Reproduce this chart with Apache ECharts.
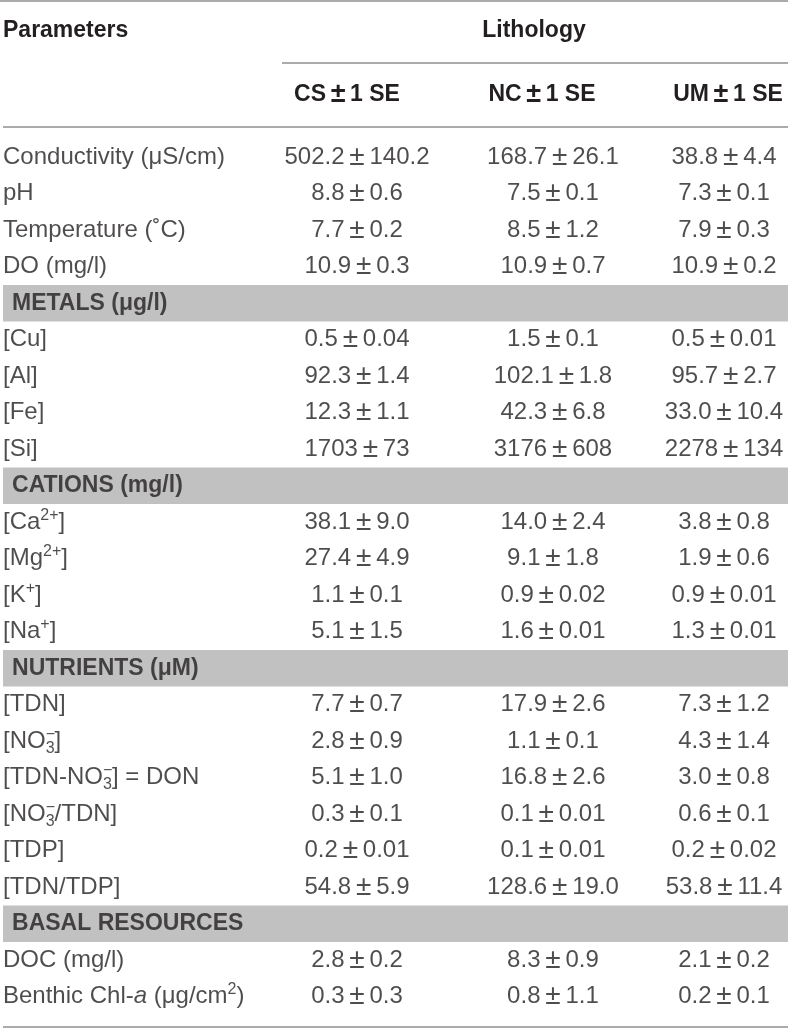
<!DOCTYPE html>
<html>
<head>
<meta charset="utf-8">
<script src="https://cdn.jsdelivr.net/npm/echarts@6/dist/echarts.min.js"></script>
<style>
  html, body { margin: 0; padding: 0; background: #fff; }
  #chart { width: 788px; height: 1029px; }
</style>
</head>
<body>
<div id="chart"></div>
<script>
// table content
const rowLabels = [
  'Conductivity (μS/cm)', 'pH', 'Temperature (˚C)', 'DO (mg/l)',
  'METALS (μg/l)', '[Cu]', '[Al]', '[Fe]', '[Si]',
  'CATIONS (mg/l)', '[Ca{sup|2+}]', '[Mg{sup|2+}]', '[K{sup|+}]', '[Na{sup|+}]',
  'NUTRIENTS (μM)', '[TDN]', '[NO{supz|−}{sub|3}]', '[TDN-NO{supz|−}{sub|3}] = DON',
  '[NO{supz|−}{sub|3}/TDN]', '[TDP]', '[TDN/TDP]',
  'BASAL RESOURCES', 'DOC (mg/l)', 'Benthic Chl-{i|a} (μg/cm{sup|2})'
]
const sectionRows = [4, 9, 14, 21]

const csMean = ['502.2', '8.8', '7.7', '10.9', null, '0.5', '92.3', '12.3', '1703', null, '38.1', '27.4', '1.1', '5.1', null, '7.7', '2.8', '5.1', '0.3', '0.2', '54.8', null, '2.8', '0.3']
const csSE   = ['140.2', '0.6', '0.2', '0.3', null, '0.04', '1.4', '1.1', '73', null, '9.0', '4.9', '0.1', '1.5', null, '0.7', '0.9', '1.0', '0.1', '0.01', '5.9', null, '0.2', '0.3']
const ncMean = ['168.7', '7.5', '8.5', '10.9', null, '1.5', '102.1', '42.3', '3176', null, '14.0', '9.1', '0.9', '1.6', null, '17.9', '1.1', '16.8', '0.1', '0.1', '128.6', null, '8.3', '0.8']
const ncSE   = ['26.1', '0.1', '1.2', '0.7', null, '0.1', '1.8', '6.8', '608', null, '2.4', '1.8', '0.02', '0.01', null, '2.6', '0.1', '2.6', '0.01', '0.01', '19.0', null, '0.9', '1.1']
const umMean = ['38.8', '7.3', '7.9', '10.9', null, '0.5', '95.7', '33.0', '2278', null, '3.8', '1.9', '0.9', '1.3', null, '7.3', '4.3', '3.0', '0.6', '0.2', '53.8', null, '2.1', '0.2']
const umSE   = ['4.4', '0.1', '0.3', '0.2', null, '0.01', '2.7', '10.4', '134', null, '0.8', '0.6', '0.01', '0.01', null, '1.2', '1.4', '0.8', '0.1', '0.02', '11.4', null, '0.2', '0.1']

const headTitle = 'Parameters'
const groupTitle = 'Lithology'
const columnTitles = ['CS', 'NC', 'UM']

// layout (x positions in percent of table width)
const ROW_H = 36.5
const GRID_TOP = 139
const X_LABEL = 0
const X_SECTION = 1.15
const X_COLS = [45.1, 70.06, 91.85]

const FONT = '"Liberation Sans", Arial, sans-serif'
const INK = '#231f20'
const RULE = '#8f8f8f'
const PM = '\u2009{pm|±}\u2009'

const rows = rowLabels.map((_, i) => String(i))
const isSection = i => sectionRows.indexOf(i) >= 0

const rich = {
  sup: { fontSize: 16, fontFamily: FONT, color: INK, verticalAlign: 'top', lineHeight: 12 },
  supz: { fontSize: 16, fontFamily: FONT, color: INK, verticalAlign: 'top', lineHeight: 12, width: 0 },
  sub: { fontSize: 16, fontFamily: FONT, color: INK, verticalAlign: 'bottom', lineHeight: 12 },
  i: { fontSize: 24, fontFamily: FONT, color: INK, fontStyle: 'italic', lineHeight: 30 },
  pm: { fontSize: 28, fontFamily: FONT, color: INK, lineHeight: 30 }
}

function valueSeries (means, ses, x) {
  return {
    type: 'scatter',
    symbolSize: 0,
    silent: true,
    data: means.map((m, i) => m == null ? null : { value: [x, i], text: m + PM + ses[i] }).filter(d => d),
    label: {
      show: true,
      position: 'inside',
      align: 'center',
      verticalAlign: 'middle',
      fontFamily: FONT,
      fontSize: 24,
      lineHeight: 30,
      color: INK,
      rich: rich,
      formatter: p => p.data.text
    }
  }
}

const chart = echarts.init(document.getElementById('chart'), null, { renderer: 'canvas' })

const headText = (text, x, y, align) => ({
  type: 'text',
  x: x, y: y,
  style: {
    text: text, fill: INK, font: 'bold 23px ' + FONT,
    textAlign: align, textVerticalAlign: 'middle',
    rich: { pm: { fontSize: 27, fontWeight: 'bold', fontFamily: FONT, fill: INK } }
  }
})
const rule = (x1, x2, y) => ({
  type: 'line',
  shape: { x1: x1, y1: y, x2: x2, y2: y },
  style: { stroke: RULE, lineWidth: 1.5 }
})
const colHead = c => c + '\u2009{pm|±}\u20091 SE'

chart.setOption({
  animation: false,
  backgroundColor: '#fff',
  grid: { left: 3, right: 0, top: GRID_TOP, height: ROW_H * rows.length },
  xAxis: { type: 'value', min: 0, max: 100, show: false },
  yAxis: { type: 'category', data: rows, inverse: true, show: false },
  graphic: [
    rule(0, 788, 1),
    rule(282, 788, 63),
    rule(3, 788, 127),
    rule(3, 788, 1027),
    headText(headTitle, 3, 31, 'left'),
    headText(groupTitle, 534, 31, 'center'),
    headText(colHead(columnTitles[0]), 347, 95, 'center'),
    headText(colHead(columnTitles[1]), 542, 95, 'center'),
    headText(colHead(columnTitles[2]), 728, 95, 'center')
  ],
  series: [
    {
      type: 'bar',
      silent: true,
      barWidth: '100%',
      itemStyle: { color: '#c1c1c1' },
      data: rows.map((_, i) => isSection(i) ? 100 : '-')
    },
    {
      type: 'scatter',
      symbolSize: 0,
      silent: true,
      data: rowLabels.map((t, i) => ({
        value: [isSection(i) ? X_SECTION : X_LABEL, i],
        text: t,
        label: isSection(i) ? { fontWeight: 'bold', fontSize: 23 } : {}
      })),
      label: {
        show: true,
        position: 'inside',
        align: 'left',
        verticalAlign: 'middle',
        fontFamily: FONT,
        fontSize: 24,
        color: INK,
        lineHeight: 30,
        rich: rich,
        formatter: p => p.data.text
      }
    },
    valueSeries(csMean, csSE, X_COLS[0]),
    valueSeries(ncMean, ncSE, X_COLS[1]),
    valueSeries(umMean, umSE, X_COLS[2])
  ]
})
</script>
</body>
</html>
